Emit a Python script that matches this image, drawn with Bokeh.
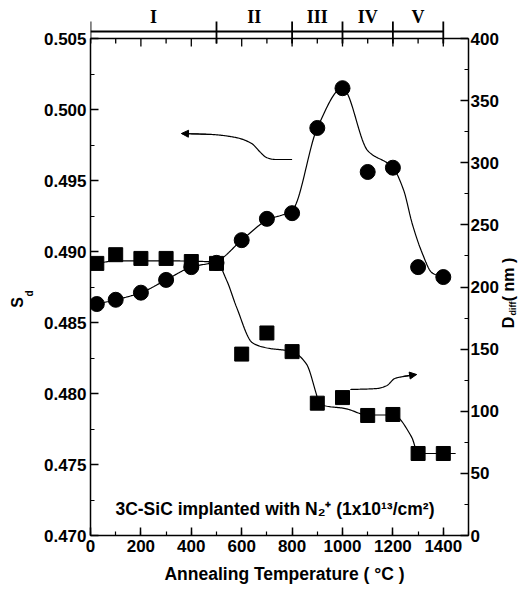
import numpy as np
from bokeh.plotting import figure
from bokeh.layouts import row, column
from bokeh.models import (Range1d, SingleIntervalTicker, LinearAxis,
                          NumeralTickFormatter, Label, Arrow, NormalHead)
from bokeh.core.properties import value
from bokeh.embed import file_html
from bokeh.resources import INLINE

# ---------------- data ----------------
temps = [25, 100, 200, 300, 400, 500, 600, 700, 800, 900, 1000, 1100, 1200, 1300, 1400]
s_d = [0.4863, 0.4866, 0.4871, 0.4880, 0.4889, 0.4892, 0.4908, 0.4923, 0.4927,
       0.4987, 0.5015, 0.4956, 0.4959, 0.4889, 0.4882]
d_diff = [219, 226, 223, 223, 220.5, 219, 146, 163, 148, 106.5, 111, 96.6, 97.4, 66, 66]

# hand-drawn guide curves
s_fit_t = [25, 100, 200, 300, 400, 500, 600, 700, 800, 900, 1000, 1100, 1200, 1243, 1276, 1316, 1355, 1400]
s_fit_v = [0.4863, 0.4866, 0.4871, 0.4880, 0.4889, 0.4893, 0.4908, 0.4922, 0.4929, 0.4987,
           0.5015, 0.4971, 0.4959, 0.4943, 0.4920, 0.4899, 0.4885, 0.4882]
d_fit_t = [25, 100, 300, 500, 541, 580, 643, 699, 800, 857, 896, 908, 1015, 1100, 1200, 1275, 1300, 1449]
d_fit_v = [219, 221, 221, 220, 205, 183.5, 155, 151, 148, 138, 114, 106, 102, 97, 97, 79, 66, 66]

# pointer arrows
arrow_s_t = [800, 733, 698, 675, 639, 576, 482, 361]
arrow_s_v = [0.49648, 0.49648, 0.49662, 0.49697, 0.49761, 0.49803, 0.49824, 0.49831]
arrow_d_t = [1031, 1137, 1176, 1208, 1243, 1294]
arrow_d_v = [117.5, 118.3, 120.7, 126.4, 128.0, 129.6]

regions = ["I", "II", "III", "IV", "V"]
region_edges = [0, 500, 800, 1000, 1200, 1400]

x_lim = [0, 1500]
s_lim = [0.470, 0.505]
d_lim = [0, 400]
top_ticks = [100, 200, 300, 400, 500, 600, 700, 800, 900, 1000, 1100, 1200, 1300, 1400]


def pchip(xk, yk, n=300):
    xk = np.asarray(xk, float)
    yk = np.asarray(yk, float)
    order = np.argsort(xk)
    xk, yk = xk[order], yk[order]
    h = np.diff(xk)
    d = np.diff(yk) / h
    m = np.zeros_like(xk)
    m[0], m[-1] = d[0], d[-1]
    for k in range(1, len(xk) - 1):
        if d[k - 1] * d[k] <= 0:
            m[k] = 0.0
        else:
            w1 = 2 * h[k] + h[k - 1]
            w2 = h[k] + 2 * h[k - 1]
            m[k] = (w1 + w2) / (w1 / d[k - 1] + w2 / d[k])
    xs = np.linspace(xk[0], xk[-1], n)
    idx = np.clip(np.searchsorted(xk, xs) - 1, 0, len(xk) - 2)
    t = (xs - xk[idx]) / h[idx]
    h00 = 2 * t**3 - 3 * t**2 + 1
    h10 = t**3 - 2 * t**2 + t
    h01 = -2 * t**3 + 3 * t**2
    h11 = t**3 - t**2
    ys = h00 * yk[idx] + h10 * h[idx] * m[idx] + h01 * yk[idx + 1] + h11 * h[idx] * m[idx + 1]
    return xs, ys


FONT = "Liberation Sans"
LEFT_W, RIGHT_W = 34, 19
BORDER_L, FRAME_W, BORDER_R = 56, 380, 31
MAIN_W = BORDER_L + FRAME_W + BORDER_R
TOP_PAD_PX, AXIS_H_PX, BORDER_B = 38, 497, 27
FRAME_H = TOP_PAD_PX + AXIS_H_PX
MAIN_H = FRAME_H + BORDER_B
BOTTOM_H = 24
TOTAL_W = LEFT_W + MAIN_W + RIGHT_W

PX = (s_lim[1] - s_lim[0]) / AXIS_H_PX          # data units per pixel (left axis)
PXD = (d_lim[1] - d_lim[0]) / AXIS_H_PX         # data units per pixel (right axis)

p = figure(width=MAIN_W, height=MAIN_H,
           x_range=Range1d(*x_lim),
           y_range=Range1d(s_lim[0], s_lim[1] + TOP_PAD_PX * PX),
           output_backend="svg", toolbar_location=None,
           min_border_left=BORDER_L, min_border_right=BORDER_R,
           min_border_top=0, min_border_bottom=BORDER_B)
p.extra_y_ranges = {"right": Range1d(d_lim[0], d_lim[1] + TOP_PAD_PX * PXD)}
p.grid.visible = False
p.outline_line_color = None
p.background_fill_color = "white"
p.border_fill_color = "white"

bottom_axis = p.below[0]
left_axis = p.left[0]
right_axis = LinearAxis(y_range_name="right")
p.add_layout(right_axis, "right")

bottom_axis.ticker = SingleIntervalTicker(interval=200, num_minor_ticks=2)
left_axis.ticker = SingleIntervalTicker(interval=0.005, num_minor_ticks=2)
left_axis.formatter = NumeralTickFormatter(format="0.000")
left_axis.bounds = (s_lim[0], s_lim[1] + 0.2 * PX)
right_axis.ticker = SingleIntervalTicker(interval=50, num_minor_ticks=2)
right_axis.bounds = (d_lim[0], d_lim[1] + 0.2 * PXD)

for ax in [bottom_axis, left_axis, right_axis]:
    ax.axis_line_color = "black"
    ax.axis_line_width = 1.5
    ax.major_tick_line_width = 1.5
    ax.minor_tick_line_width = 1.2
    ax.major_tick_in = 8
    ax.major_tick_out = 0
    ax.minor_tick_in = 4
    ax.minor_tick_out = 0
    ax.major_label_text_font = FONT
    ax.major_label_text_font_style = "bold"
    ax.major_label_text_font_size = "17px"
    ax.major_label_text_color = "black"
    ax.major_label_standoff = 4
right_axis.major_label_standoff = 2

# top border with inward ticks
p.segment(x0=[x_lim[0]], y0=[s_lim[1]], x1=[x_lim[1]], y1=[s_lim[1]], line_color="black", line_width=1.5)
tick_len = [8 * PX if t % 200 == 0 else 5 * PX for t in top_ticks]
p.segment(x0=top_ticks, y0=[s_lim[1]] * len(top_ticks), x1=top_ticks,
          y1=[s_lim[1] - L for L in tick_len], line_color="black", line_width=1.3)

# region bracket (I ... V) above the plot
yb = s_lim[1] + 7 * PX
p.segment(x0=[region_edges[0]], y0=[yb], x1=[region_edges[-1]], y1=[yb], line_color="black", line_width=2)
p.segment(x0=region_edges, y0=[yb + 10 * PX] * len(region_edges), x1=region_edges,
          y1=[yb - 12 * PX] * len(region_edges), line_color="black", line_width=1.8)
mids = [(region_edges[i] + region_edges[i + 1]) / 2 for i in range(len(regions))]
p.text(x=mids, y=[s_lim[1] + 22 * PX] * len(mids), text=regions, text_align="center",
       text_baseline="middle", text_font=value("Liberation Serif"), text_font_style="bold",
       text_font_size=value("18px"), text_color="black")

# curves
sx, sy = pchip(s_fit_t, s_fit_v)
p.line(sx, sy, line_color="black", line_width=1.2)
dx, dy = pchip(d_fit_t, d_fit_v)
p.line(dx, dy, line_color="black", line_width=1.2, y_range_name="right")

# markers
p.scatter(temps, s_d, marker="circle", size=15, color="black")
p.scatter(temps, d_diff, marker="square", size=14, color="black", y_range_name="right")

# pointer arrows
ax_, ay_ = pchip(arrow_s_t, arrow_s_v, 120)
p.line(ax_, ay_, line_color="black", line_width=1.2)
p.add_layout(Arrow(end=NormalHead(size=7, fill_color="black", line_color="black"),
                   x_start=arrow_s_t[-2], y_start=arrow_s_v[-2],
                   x_end=arrow_s_t[-1], y_end=arrow_s_v[-1], line_color="black", line_width=1.2))
bx_, by_ = pchip(arrow_d_t, arrow_d_v, 120)
p.line(bx_, by_, line_color="black", line_width=1.2, y_range_name="right")
p.add_layout(Arrow(end=NormalHead(size=7, fill_color="black", line_color="black"),
                   x_start=arrow_d_t[-2], y_start=arrow_d_v[-2],
                   x_end=arrow_d_t[-1], y_end=arrow_d_v[-1], line_color="black", line_width=1.2,
                   y_range_name="right"))

# annotation text
p.add_layout(Label(x=732, y=0.4719, text="3C-SiC implanted with N\u2082\u207a (1x10\u00b9\u00b3/cm\u00b2)",
                   text_align="center", text_baseline="middle", text_font=FONT,
                   text_font_style="bold", text_font_size="17.5px", text_color="black"))


def side_fig(w, h, yspan):
    f = figure(width=w, height=h, x_range=Range1d(0, w), y_range=Range1d(0, yspan),
               output_backend="svg", toolbar_location=None,
               x_axis_location=None, y_axis_location=None,
               min_border=0, min_border_left=0, min_border_right=0,
               min_border_top=0, min_border_bottom=0)
    f.grid.visible = False
    f.outline_line_color = None
    f.background_fill_color = "white"
    f.border_fill_color = "white"
    return f


def txt(f, x, y, s, size, angle=0.0):
    f.text(x=[x], y=[y], text=[s], angle=angle, text_align="center", text_baseline="middle",
           text_font=value(FONT), text_font_style="bold", text_font_size=value(size), text_color="black")


# side figures: their frames line up with the main frame (height FRAME_H)
pl = side_fig(LEFT_W, MAIN_H, FRAME_H)
txt(pl, 17, FRAME_H - 302, "S", "16px", np.pi / 2)
txt(pl, 29, FRAME_H - 293, "d", "10px", np.pi / 2)

pr = side_fig(RIGHT_W, MAIN_H, FRAME_H)
txt(pr, 7, FRAME_H - 322, "D", "16px", np.pi / 2)
txt(pr, 11.5, FRAME_H - 308, "diff", "9px", np.pi / 2)
txt(pr, 7, FRAME_H - 279, "( nm )", "16px", np.pi / 2)

# x axis title
pb = side_fig(TOTAL_W, BOTTOM_H, BOTTOM_H)
txt(pb, 284, BOTTOM_H - 11, "Annealing Temperature ( \u00b0C )", "17.5px")

layout = column(row(pl, p, pr), pb)
open("out.html", "w").write(file_html(layout, INLINE))
